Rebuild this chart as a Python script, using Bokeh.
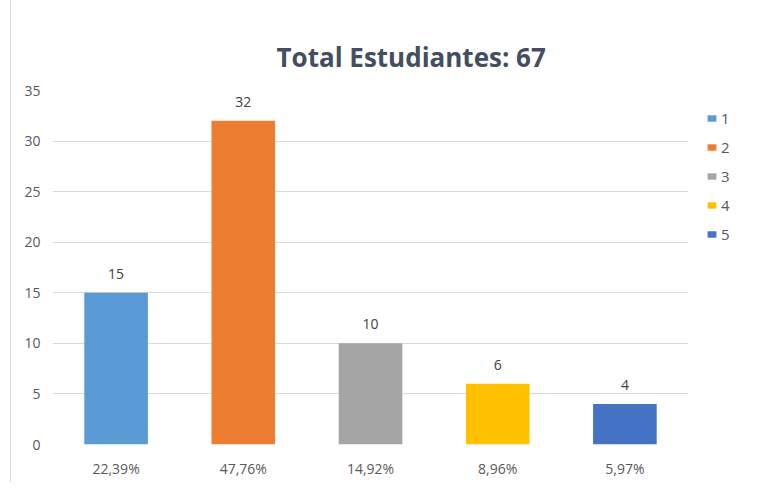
from bokeh.plotting import figure
from bokeh.models import ColumnDataSource, Legend, LegendItem, FixedTicker
from bokeh.embed import file_html
from bokeh.resources import INLINE
from bokeh.core.properties import value

# ---- data ----
series = ["1", "2", "3", "4", "5"]
counts = [15, 32, 10, 6, 4]
pct_labels = ["22,39%", "47,76%", "14,92%", "8,96%", "5,97%"]
total_students = 67
y_ticks = [0, 5, 10, 15, 20, 25, 30, 35]
bar_colors = ["#5B9BD5", "#ED7D31", "#A5A5A5", "#FFC000", "#4472C4"]

FONT = "Open Sans"

src = ColumnDataSource(dict(
    pct=pct_labels,
    count=counts,
    count_txt=[str(c) for c in counts],
    serie=series,
    color=bar_colors,
))

p = figure(
    x_range=pct_labels,
    y_range=(0, 35),
    frame_width=636,
    frame_height=354,
    min_border_left=41,
    min_border_top=90,
    min_border_bottom=38,
    min_border_right=10,
    output_backend="svg",
    toolbar_location=None,
    title="Total Estudiantes: %d" % total_students,
)
p.styles = {"border-left": "1px solid #D9D9D9", "margin-left": "10px"}

p.title.text_font = FONT
p.title.text_font_size = "26px"
p.title.text_font_style = "bold"
p.title.text_color = "#444E60"
p.title.align = "left"
p.title.offset = 224
p.title.standoff = 31

p.outline_line_color = None
p.background_fill_color = "white"
p.border_fill_color = "white"

# grid
p.xgrid.grid_line_color = None
p.ygrid.grid_line_color = "#D9D9D9"
p.ygrid.grid_line_width = 1
p.ygrid.ticker = FixedTicker(ticks=y_ticks)

# axes
p.yaxis.ticker = FixedTicker(ticks=y_ticks)
for ax in (p.xaxis[0], p.yaxis[0]):
    ax.axis_line_color = None
    ax.major_tick_line_color = None
    ax.minor_tick_line_color = None
    ax.major_label_text_font = FONT
    ax.major_label_text_font_size = "14px"
    ax.major_label_text_color = "#595959"
p.yaxis.major_label_standoff = 6
p.xaxis.major_label_standoff = 8

r = p.vbar(x="pct", top="count", width=0.5, fill_color="color",
           line_color=None, source=src)

p.text(x="pct", y="count", text="count_txt", source=src,
       y_offset=-14, text_align="center", text_baseline="bottom",
       text_font_size="14px", text_color="#404040", text_font=value(FONT))

legend = Legend(
    items=[LegendItem(label=s, renderers=[r], index=i) for i, s in enumerate(series)],
    location="top_left",
    border_line_color=None,
    background_fill_alpha=0,
    glyph_width=11,
    glyph_height=8,
    label_text_font=FONT,
    label_text_font_size="15px",
    label_text_color="#595959",
    label_standoff=4,
    label_height=16,
    spacing=9,
    padding=0,
    margin=18,
)
p.add_layout(legend, "right")

open("out.html", "w").write(file_html(p, INLINE))
